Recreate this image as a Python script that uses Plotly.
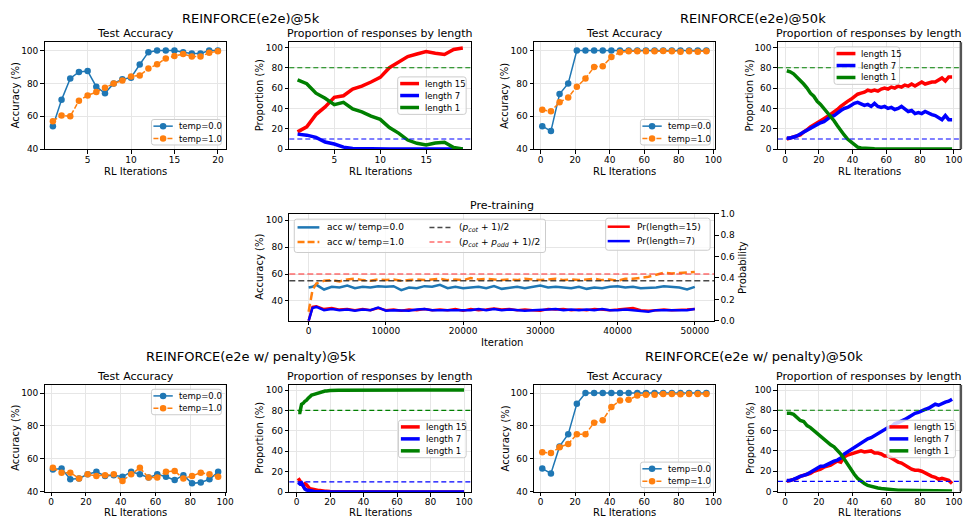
import plotly.graph_objects as go

W, H = 976, 525
FONT = "DejaVu Sans"

# ------------------------------------------------------------------ data
# REINFORCE(e2e)@5k
rl5k_iters = list(range(1, 21))
rl5k_acc_temp0 = [54, 70, 83, 87, 87.5, 78, 74, 80, 82.5, 83.5, 91.5, 99, 100, 100, 100, 99, 98.2, 98.2, 100, 100]
rl5k_acc_temp1 = [57, 60.5, 60, 69.5, 72.7, 74.7, 77.3, 80, 81.7, 84.2, 84.8, 89, 91.6, 95.2, 96.6, 97.8, 96.4, 96.4, 98.6, 99.6]

rl5k_len_iters = list(range(1, 20))
rl5k_len15 = [17, 22, 34, 41.5, 51, 52.5, 59, 62, 66, 70.5, 80, 85.5, 91, 93.5, 95.8, 94.2, 93, 98, 99.4]
rl5k_len7 = [14.8, 13.8, 11.6, 7, 5.1, 2, 0.6, 0.3, 0.3, 0.3, 0.2, 0.2, 0.2, 0.2, 0.2, 0.2, 0.2, 0.2, 0.2]
rl5k_len1 = [68, 64.3, 55, 50, 43.7, 46, 39.5, 36.7, 32.5, 29.3, 21.2, 15.8, 9, 5.8, 4.2, 6.1, 6.8, 1.6, 0.3]

# REINFORCE(e2e)@50k
rl50k_iters = list(range(1, 100, 5))
rl50k_acc_temp0 = [54, 51, 73.5, 80, 100, 100, 100, 100, 100, 100, 100, 100, 100, 100, 100, 100, 100, 100, 100, 100]
rl50k_acc_temp1 = [64, 63, 68.5, 71.5, 78, 83, 90, 90.5, 96, 99, 99.5, 99.5, 99.5, 99.5, 99.7, 99.5, 99.3, 99.5, 99.3, 99.5]

rl50k_len_iters = list(range(1, 100, 2))
rl50k_len15 = [10, 11, 12, 13, 14, 17, 19, 22, 24, 27, 29, 30, 32, 34, 37, 39, 42, 45, 47, 49,
               51, 54, 55, 56, 58, 57, 58, 57, 59, 60, 59, 61, 60, 62, 61, 63, 62, 64, 62, 64,
               66, 64, 65, 66, 66, 68, 70, 67, 71, 71]
rl50k_len7 = [11, 11, 12, 13, 15, 17, 19, 21, 22, 25, 26, 27, 30, 32, 33, 36, 38, 40, 41, 43,
              45, 46, 44, 43, 44, 42, 45, 42, 41, 42, 40, 41, 39, 40, 42, 39, 37, 38, 35, 36,
              35, 37, 35, 34, 33, 31, 29, 33, 29, 29]
rl50k_len1 = [77, 76, 74, 71, 68, 64, 60, 55, 52, 47, 44, 40, 37, 33, 28, 23, 18, 14, 10, 7,
              4, 2, 1.2, 0.8, 0.5, 0.4, 0.4, 0.3, 0.3, 0.3, 0.3, 0.2, 0.2, 0.2, 0.2, 0.2, 0.2, 0.2, 0.2, 0.2,
              0.2, 0.2, 0.2, 0.2, 0.2, 0.2, 0.2, 0.2, 0.2, 0.2]

# Pre-training
pre_iters = [0, 500] + list(range(1000, 50001, 1000))
pre_acc_temp0 = [50, 50.5, 52, 48.5, 50.5, 50, 51.5, 49.5, 50.5, 50,
                 51, 50.5, 51, 48, 50, 49.5, 51, 50.5, 52, 49.5,
                 50.5, 49.5, 50, 50.5, 49.5, 51, 49, 50, 50.5, 49.5,
                 50.5, 51.5, 50, 50.5, 50, 49.5, 50.5, 49, 50, 49.5,
                 50.5, 51, 50, 50.5, 49.5, 49.5, 50, 51, 50.5, 50,
                 48.5, 50.5]
pre_acc_temp1 = [32, 48, 53, 55, 55.5, 54.5, 56, 56.5, 55.5, 55,
                 56, 55.5, 56, 55, 55.5, 56, 55.5, 56, 56.5, 55.5,
                 56, 55.5, 57, 56, 56.5, 56, 55.5, 56, 55.5, 56.5,
                 56, 55.5, 56, 56.5, 55.5, 56, 55.5, 56, 56.5, 55.5,
                 56, 55, 56.5, 56.5, 57, 58, 59.5, 61, 60.5, 61,
                 61, 61.5]
pre_pr_len15 = [0, 0.13, 0.135, 0.11, 0.12, 0.105, 0.11, 0.1, 0.11, 0.1,
                0.12, 0.1, 0.105, 0.095, 0.105, 0.1, 0.11, 0.1, 0.105, 0.1,
                0.11, 0.095, 0.11, 0.1, 0.105, 0.115, 0.105, 0.11, 0.1, 0.105,
                0.1, 0.095, 0.11, 0.105, 0.11, 0.1, 0.105, 0.1, 0.11, 0.105,
                0.1, 0.105, 0.11, 0.12, 0.1, 0.095, 0.1, 0.105, 0.1, 0.1,
                0.105, 0.11]
pre_pr_len7 = [0, 0.12, 0.13, 0.1, 0.11, 0.1, 0.105, 0.095, 0.105, 0.1,
               0.125, 0.095, 0.1, 0.1, 0.095, 0.105, 0.11, 0.1, 0.1, 0.105,
               0.1, 0.105, 0.1, 0.11, 0.1, 0.11, 0.1, 0.105, 0.1, 0.095,
               0.1, 0.1, 0.105, 0.11, 0.1, 0.105, 0.1, 0.105, 0.1, 0.11,
               0.1, 0.1, 0.105, 0.1, 0.09, 0.085, 0.1, 0.1, 0.095, 0.1,
               0.1, 0.11]
pre_ref_cot = 55        # (p_cot + 1)/2
pre_ref_cot_odd = 60    # (p_cot + p_odd + 1)/2

# REINFORCE(e2e w/ penalty)@5k
pen5k_iters = list(range(1, 100, 5))
pen5k_acc_temp0 = [53.5, 54, 47.5, 48, 50.5, 52, 49.5, 50, 49, 52, 50.5, 48.5, 50.5, 49, 47, 50, 45, 45.5, 47.5, 52]
pen5k_acc_temp1 = [54.5, 51.5, 51.5, 48, 50.5, 49.5, 50, 50.5, 46.5, 50.5, 54.5, 48.5, 48.5, 52, 52.5, 48, 49.5, 51.5, 50.5, 49]

pen5k_len_iters = list(range(1, 21)) + list(range(25, 101, 5))
pen5k_len15 = [13.5, 11, 8, 6, 8, 7, 5, 3, 3, 2.5, 2, 2, 1.5, 1.5, 1, 1, 0.8, 0.8, 0.5, 0.5,
               0.3, 0.2, 0.2, 0.1, 0.1, 0.1, 0.1, 0, 0, 0, 0, 0, 0, 0, 0, 0]
pen5k_len7 = [9.5, 8, 9, 5, 3, 2, 1.5, 1, 1, 0.7, 0.5, 0.4, 0.3, 0.3, 0.3, 0.2, 0.2, 0.2, 0.1, 0.1,
              0.1, 0.1, 0, 0, 0, 0, 0, 0, 0, 0, 0, 0, 0, 0, 0, 0]
pen5k_len1 = [78, 78, 86, 87, 89, 90, 92, 94, 95, 95.5, 96, 97, 97.5, 98, 98.5, 98.5, 99, 99, 99.5, 99.5,
              99.7, 99.8, 99.8, 99.9, 99.9, 100, 99.9, 100, 100, 99.9, 100, 100, 100, 99.9, 100, 100]

# REINFORCE(e2e w/ penalty)@50k
pen50k_iters = list(range(1, 100, 5))
pen50k_acc_temp0 = [54, 51, 67.5, 75, 93.5, 100, 100, 100, 100, 100, 100, 100, 100, 100, 100, 100, 100, 100, 100, 100]
pen50k_acc_temp1 = [64, 63.5, 67, 69, 75, 75, 82, 83.5, 91.5, 95.5, 96, 98.5, 99, 99, 99.5, 99.5, 99.3, 99.5, 99.5, 99.5]

pen50k_len_iters = list(range(1, 100, 2))
pen50k_len15 = [10, 11, 12, 13, 15, 16, 17, 18, 20, 21, 22, 24, 25, 26, 28, 30, 29, 34, 36, 37,
                38, 39, 40, 39, 39.5, 40, 38, 38, 37, 35, 35, 33, 31, 29, 28, 26, 24, 22, 21, 21,
                20, 18, 17, 15, 14, 12, 13, 12, 11, 8]
pen50k_len7 = [11, 11, 12, 14, 15, 16, 17, 19, 21, 23, 25, 25, 27, 28, 30, 31, 33, 37, 39, 41,
               43, 45, 47, 49, 52, 53, 55, 56, 58, 61, 63, 64, 67, 68, 70, 71, 73, 75, 77, 78,
               80, 81, 82, 84, 86, 85, 87, 88, 89, 91]
pen50k_len1 = [77, 77, 76, 73, 70, 69, 65, 63, 60, 57, 54, 51, 49, 46, 44, 41, 37, 32, 27, 21,
               17, 13, 10, 8, 6, 5, 4, 3.5, 3, 2.5, 2, 1.8, 1.5, 1.3, 1.2, 1.1, 1, 1, 0.9, 0.9,
               0.8, 0.8, 0.7, 0.7, 0.6, 0.6, 0.5, 0.5, 0.5, 0.5]

prop_ref_len1 = 80
prop_ref_len7 = 10

# ------------------------------------------------------------------ styles
C_T0 = "#1f77b4"
C_T1 = "#ff7f0e"
C_RED = "#ff0000"
C_BLUE = "#0000ff"
C_GREEN = "#008000"
REF_BLACK = "rgba(40,40,40,0.85)"
REF_RED = "rgba(255,60,60,0.75)"
ACC_STYLE = [("temp=0.0", C_T0, 1.5, "solid"), ("temp=1.0", C_T1, 1.5, "5px,2px")]
PROP_STYLE = [("length 15", C_RED), ("length 7", C_BLUE), ("length 1", C_GREEN)]

fig = go.Figure()


def ax(n, kind):
    return kind if n == 1 else f"{kind}{n}"


def add_acc(n, xs, t0, t1):
    for ys, (nm, c, w, d) in zip((t0, t1), ACC_STYLE):
        fig.add_trace(go.Scatter(x=xs, y=ys, mode="lines+markers", name=nm,
                                 line=dict(color=c, width=w, dash=d), marker=dict(size=6.5, color=c),
                                 xaxis=ax(n, "x"), yaxis=ax(n, "y"), showlegend=False))


def add_prop(n, xs, l15, l7, l1):
    for ys, (nm, c) in zip((l15, l7, l1), PROP_STYLE):
        fig.add_trace(go.Scatter(x=xs, y=ys, mode="lines", name=nm, line=dict(color=c, width=3.5),
                                 xaxis=ax(n, "x"), yaxis=ax(n, "y"), showlegend=False))


add_acc(1, rl5k_iters, rl5k_acc_temp0, rl5k_acc_temp1)
add_prop(2, rl5k_len_iters, rl5k_len15, rl5k_len7, rl5k_len1)
add_acc(3, rl50k_iters, rl50k_acc_temp0, rl50k_acc_temp1)
add_prop(4, rl50k_len_iters, rl50k_len15, rl50k_len7, rl50k_len1)
add_acc(6, pen5k_iters, pen5k_acc_temp0, pen5k_acc_temp1)
add_prop(7, pen5k_len_iters, pen5k_len15, pen5k_len7, pen5k_len1)
add_acc(8, pen50k_iters, pen50k_acc_temp0, pen50k_acc_temp1)
add_prop(9, pen50k_len_iters, pen50k_len15, pen50k_len7, pen50k_len1)

# pre-training
fig.add_trace(go.Scatter(x=pre_iters, y=pre_acc_temp0, mode="lines", name="acc w/ temp=0.0",
                         line=dict(color=C_T0, width=2.5), xaxis="x5", yaxis="y5", showlegend=False))
fig.add_trace(go.Scatter(x=pre_iters, y=pre_acc_temp1, mode="lines", name="acc w/ temp=1.0",
                         line=dict(color=C_T1, width=2.5, dash="8px,4px"), xaxis="x5", yaxis="y5", showlegend=False))
fig.add_trace(go.Scatter(x=pre_iters, y=pre_pr_len15, mode="lines", name="Pr(length=15)",
                         line=dict(color=C_RED, width=2.5), xaxis="x5", yaxis="y12", showlegend=False))
fig.add_trace(go.Scatter(x=pre_iters, y=pre_pr_len7, mode="lines", name="Pr(length=7)",
                         line=dict(color=C_BLUE, width=2.5), xaxis="x5", yaxis="y12", showlegend=False))

# ------------------------------------------------------------------ axes
common = dict(showline=True, linecolor="black", linewidth=1, mirror=True, ticks="outside",
              ticklen=3.5, tickwidth=1, tickcolor="black", showgrid=True, gridcolor="#e6e6e6",
              gridwidth=1, zeroline=False, tickfont=dict(size=9, color="black", family=FONT))


def dx(l, r):
    return [l / W, r / W]


def dy(t, b):
    return [1 - b / H, 1 - t / H]


acc_y = dict(range=[40, 105], tickvals=[40, 60, 80, 100])
prop_y = dict(range=[0, 105], tickvals=[0, 20, 40, 60, 80, 100])
x100 = [0, 20, 40, 60, 80, 100]

panels = {
    1: (dx(45, 228), dy(38, 147), dict(range=[0.05, 20.95], tickvals=[5, 10, 15, 20]), acc_y),
    2: (dx(291.7, 475), dy(38, 147), dict(range=[0.1, 19.9], tickvals=[5, 10, 15]), prop_y),
    3: (dx(538.5, 720.5), dy(38, 147), dict(range=[-3.75, 100.75], tickvals=x100), acc_y),
    4: (dx(784.3, 968.3), dy(38, 147), dict(range=[-4.3, 103.9], tickvals=x100), prop_y),
    5: (dx(291.7, 720), dy(212.7, 322), dict(range=[-2500, 52500], tickvals=[0, 10000, 20000, 30000, 40000, 50000], tickformat="d"),
        dict(range=[25.2, 104.9], tickvals=[40, 60, 80, 100])),
    6: (dx(45, 228.3), dy(387.3, 496), dict(range=[-3.75, 100.75], tickvals=x100), acc_y),
    7: (dx(291.7, 475), dy(387.3, 496.5), dict(range=[-4.3, 104.2], tickvals=x100), prop_y),
    8: (dx(538.5, 720.5), dy(387.3, 496), dict(range=[-3.75, 100.75], tickvals=x100), acc_y),
    9: (dx(784.3, 968.3), dy(387.3, 496), dict(range=[-4.3, 103.9], tickvals=x100), prop_y),
}

layout = {}
for n, (xd, yd, xs, ys) in panels.items():
    xk = "xaxis" if n == 1 else f"xaxis{n}"
    yk = "yaxis" if n == 1 else f"yaxis{n}"
    layout[xk] = dict(domain=xd, anchor=ax(n, "y"), ticklabelstandoff=-2, **xs, **common)
    layout[yk] = dict(domain=yd, anchor=ax(n, "x"), **ys, **common)

layout["yaxis12"] = dict(overlaying="y5", side="right", anchor="x5", range=[0, 1],
                         tickvals=[0, 0.2, 0.4, 0.6, 0.8, 1.0], tickformat=".1f",
                         showgrid=False, zeroline=False, showline=False, ticks="outside",
                         ticklen=3.5, tickcolor="black", tickfont=dict(size=9, color="black", family=FONT))

# ------------------------------------------------------------------ reference lines
shapes = []
for n in (2, 4, 7, 9):
    shapes.append(dict(type="line", xref=f"x{n} domain", yref=f"y{n}", x0=0, x1=1, y0=prop_ref_len1, y1=prop_ref_len1,
                       line=dict(color=C_GREEN, width=1.1, dash="5px,3px"), layer="above"))
    shapes.append(dict(type="line", xref=f"x{n} domain", yref=f"y{n}", x0=0, x1=1, y0=prop_ref_len7, y1=prop_ref_len7,
                       line=dict(color=C_BLUE, width=1.1, dash="5px,3px"), layer="above"))
shapes.append(dict(type="line", xref="x5 domain", yref="y5", x0=0, x1=1, y0=pre_ref_cot, y1=pre_ref_cot,
                   line=dict(color=REF_BLACK, width=1.5, dash="6px,3px"), layer="above"))
shapes.append(dict(type="line", xref="x5 domain", yref="y5", x0=0, x1=1, y0=pre_ref_cot_odd, y1=pre_ref_cot_odd,
                   line=dict(color=REF_RED, width=1.5, dash="6px,3px"), layer="above"))
# thick right edge on the right-most panels
for (t, b) in [(38, 147), (387.3, 496)]:
    shapes.append(dict(type="line", xref="paper", yref="paper", x0=968.8 / W, x1=968.8 / W, y0=1 - b / H, y1=1 - t / H,
                       line=dict(color="#555555", width=2.5), layer="above"))

ann = []


def px(x):
    return x / W


def py(y):
    return 1 - y / H


def txt(s, x, y, size, angle=0, xanchor="center"):
    ann.append(dict(text=s, x=px(x), y=py(y), xref="paper", yref="paper", xanchor=xanchor, yanchor="middle",
                    showarrow=False, textangle=angle, font=dict(size=size, family=FONT, color="black")))


# ------------------------------------------------------------------ legends (matplotlib-like boxes)
def box(L, T, w, h, r=2.5):
    R, B = L + w, T + h
    path = (f"M{px(L + r)},{py(T)} L{px(R - r)},{py(T)} Q{px(R)},{py(T)} {px(R)},{py(T + r)} "
            f"L{px(R)},{py(B - r)} Q{px(R)},{py(B)} {px(R - r)},{py(B)} "
            f"L{px(L + r)},{py(B)} Q{px(L)},{py(B)} {px(L)},{py(B - r)} "
            f"L{px(L)},{py(T + r)} Q{px(L)},{py(T)} {px(L + r)},{py(T)} Z")
    shapes.append(dict(type="path", xref="paper", yref="paper", path=path,
                       line=dict(color="#cccccc", width=1), fillcolor="rgba(255,255,255,0.8)", layer="above"))


def handle(x0, x1, y, color, width, dash="solid", marker=False):
    shapes.append(dict(type="line", xref="paper", yref="paper", x0=px(x0), x1=px(x1), y0=py(y), y1=py(y),
                       line=dict(color=color, width=width, dash=dash), layer="above"))
    if marker:
        c = (x0 + x1) / 2
        rr = 3.3
        shapes.append(dict(type="circle", xref="paper", yref="paper", x0=px(c - rr), x1=px(c + rr),
                           y0=py(y + rr), y1=py(y - rr), line=dict(color=color, width=0),
                           fillcolor=color, layer="above"))


def acc_legend(L, T, w=70.5):
    box(L, T, w, 26)
    for i, (nm, c, lw, d) in enumerate(ACC_STYLE):
        y = T + 6.8 + i * 12.6
        handle(L + 2, L + 21.5, y, c, lw, d, marker=True)
        txt(nm, L + 25.5, y, 8.5, xanchor="left")


def prop_legend(L, T, w=69):
    box(L, T, w, 38.2)
    for i, (nm, c) in enumerate(PROP_STYLE):
        y = T + 6.8 + i * 12.2
        handle(L + 2.5, L + 21.5, y, c, 3.5)
        txt(nm, L + 25.5, y, 8.5, xanchor="left")


acc_legend(152.7, 116.7)
prop_legend(401, 73.3)
acc_legend(645.7, 116.7)
prop_legend(841, 42.7, 66)
acc_legend(152.7, 391.7)
prop_legend(401.7, 423.3, 68.3)
acc_legend(645.7, 466)
prop_legend(894.3, 423.3, 69)

# pre-training legends
box(296.7, 218.3, 253.3, 34)
pre_left = [
    ("acc w/ temp=0.0", C_T0, 2.5, "solid", 300, 226.7),
    ("acc w/ temp=1.0", C_T1, 2.5, "7px,3px", 300, 241.7),
    ("(<i>p<sub>cot</sub></i> + 1)/2", REF_BLACK, 1.5, "5px,3px", 433, 226.7),
    ("(<i>p<sub>cot</sub></i> + <i>p<sub>odd</sub></i> + 1)/2", REF_RED, 1.5, "5px,3px", 433, 241.7),
]
for nm, c, lw, d, x0, y in pre_left:
    handle(x0, x0 + 22, y, c, lw, d)
    txt(nm, x0 + 27.5, y, 9, xanchor="left")
box(610.7, 217.3, 105.3, 32.7)
for i, (nm, c) in enumerate([("Pr(length=15)", C_RED), ("Pr(length=7)", C_BLUE)]):
    y = 226 + i * 14.7
    handle(612.7, 635, y, c, 2.5)
    txt(nm, 640.5, y, 9, xanchor="left")

# ------------------------------------------------------------------ titles and labels
txt("REINFORCE(e2e)@5k", 253, 13.5, 13)
txt("REINFORCE(e2e)@50k", 759, 13.5, 13)
txt("REINFORCE(e2e w/ penalty)@5k", 253.5, 358.3, 13)
txt("REINFORCE(e2e w/ penalty)@50k", 760, 358.3, 13)

for cx in (136.5, 629.5):
    txt("Test Accuracy", cx, 29.3, 11)
    txt("Test Accuracy", cx, 378.3, 11)
for cx in (383.3, 876.3):
    txt("Proportion of responses by length", cx, 29.3, 11)
    txt("Proportion of responses by length", cx, 378.3, 11)
txt("Pre-training", 505.9, 204, 11)

for cx in (136.5, 383.3, 629.5, 876.3):
    txt("RL Iterations", cx, 169.3, 10)
    txt("RL Iterations", cx, 517.3, 10)
txt("Iteration", 505.9, 344, 10)

for cx in (15.7, 509.3):
    txt("Accuracy (%)", cx, 92.5, 10, -90)
    txt("Accuracy (%)", cx, 441.7, 10, -90)
for cx in (261.7, 756):
    txt("Proportion (%)", cx, 92.5, 10, -90)
    txt("Proportion (%)", cx, 441.7, 10, -90)
txt("Accuracy (%)", 261.7, 267.3, 10, -90)
txt("Probability", 748, 267.3, 10, -90)

fig.update_layout(width=W, height=H, autosize=False, margin=dict(l=0, r=0, t=0, b=0),
                  paper_bgcolor="white", plot_bgcolor="white", font=dict(family=FONT, color="black"),
                  showlegend=False, annotations=ann, shapes=shapes, **layout)

fig.write_html("out.html", config={"displayModeBar": False},
               post_script="document.body.style.margin='0px';document.body.style.overflow='hidden';")
